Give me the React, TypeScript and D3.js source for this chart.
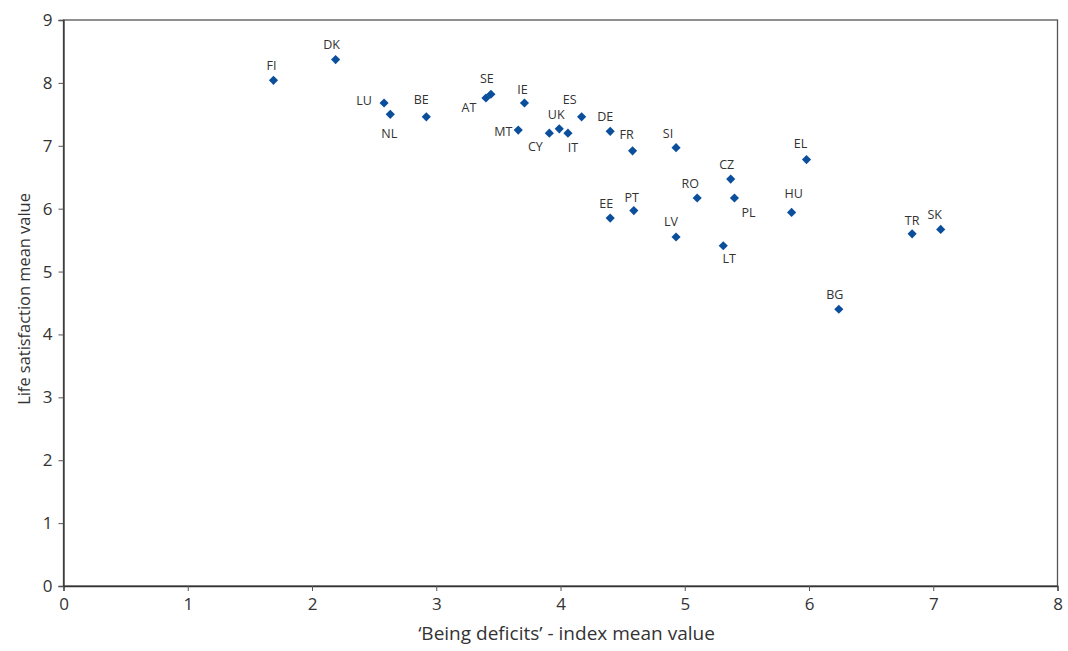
import React, { useEffect, useRef } from "react";
import * as d3 from "d3";

const countries = ["FI","DK","LU","NL","BE","AT","SE","IE","ES","MT","CY","UK","IT","DE","FR","SI","EE","PT","RO","LV","CZ","PL","LT","EL","HU","BG","TR","SK"];
const deficits = [1.69,2.19,2.58,2.63,2.92,3.40,3.44,3.71,4.17,3.66,3.91,3.99,4.06,4.40,4.58,4.93,4.40,4.59,5.10,4.93,5.37,5.40,5.31,5.98,5.86,6.24,6.83,7.06];
const satisfaction = [8.04,8.37,7.68,7.50,7.46,7.76,7.82,7.68,7.46,7.25,7.20,7.27,7.20,7.23,6.92,6.97,5.85,5.97,6.17,5.55,6.47,6.17,5.41,6.78,5.94,4.40,5.60,5.67];
// label placement relative to marker (pixels)
const labelDx = [-2,-4,-20,-1,-5,-17,-4,-2,-12,-15,-14,-3,5,-5,-6,-8,-4,-2,-7,-5,-4,14,6,-6,2,-4,0,-6];
const labelDy = [-15,-15,-3,19,-17,10,-16,-14,-17,1,13,-14,14,-15,-16,-14,-15,-13,-14,-15,-15,15,13,-16,-19,-15,-13,-15];

const xTicks = [0,1,2,3,4,5,6,7,8];
const yTicks = [0,1,2,3,4,5,6,7,8,9];

const W = 1068, H = 651;
const left = 63.5, right = 1057.5, top = 20, bottom = 586;

function fitText(sel: d3.Selection<SVGTextElement, unknown, null, undefined>, base: number, target: number) {
  const node = sel.node();
  if (!node) return;
  const len = node.getComputedTextLength();
  if (len > 0) sel.attr("font-size", (base * target) / len);
}

export default function App() {
  const ref = useRef<SVGSVGElement>(null);
  useEffect(() => {
    const svg = d3.select(ref.current);
    svg.selectAll("*").remove();
    const x = d3.scaleLinear().domain([0, 8]).range([left, right]);
    const y = d3.scaleLinear().domain([0, 9]).range([bottom, top]);
    const font = "'Open Sans', sans-serif";
    const textColor = "#333";

    // frame
    svg.append("rect").attr("x", left).attr("y", top).attr("width", right - left).attr("height", bottom - top)
      .attr("fill", "none").attr("stroke", "#555").attr("stroke-width", 1.3);

    const xa = svg.append("g").attr("transform", `translate(0,${bottom})`)
      .call(d3.axisBottom(x).tickValues(xTicks).tickFormat(d3.format("d")).tickSize(5).tickPadding(7));
    const ya = svg.append("g").attr("transform", `translate(${left},0)`)
      .call(d3.axisLeft(y).tickValues(yTicks).tickFormat(d3.format("d")).tickSize(5).tickPadding(6));
    [xa, ya].forEach(a => {
      a.select(".domain").attr("stroke", "#333").attr("stroke-width", 1.3);
      a.selectAll(".tick line").attr("stroke", "#555");
      a.selectAll(".tick text").attr("font-family", font).attr("font-size", 17).attr("fill", textColor);
    });

    const sym = d3.symbol().type(d3.symbolSquare).size(42);
    const pts = countries.map((c, i) => ({ c, x: deficits[i], y: satisfaction[i], dx: labelDx[i], dy: labelDy[i] }));
    svg.append("g").selectAll("path").data(pts).join("path")
      .attr("d", sym as any)
      .attr("transform", d => `translate(${x(d.x)},${y(d.y)}) rotate(45)`)
      .attr("fill", "#0b4f9c");
    svg.append("g").selectAll("text").data(pts).join("text")
      .attr("x", d => x(d.x) + d.dx).attr("y", d => y(d.y) + d.dy)
      .attr("text-anchor", "middle").attr("dominant-baseline", "central")
      .attr("font-family", font).attr("font-size", 12.5).attr("fill", textColor)
      .text(d => d.c);

    const xt = svg.append("text").attr("x", 566.5).attr("y", 640)
      .attr("text-anchor", "middle").attr("font-family", font).attr("font-size", 16).attr("fill", textColor)
      .text("\u2018Being deficits\u2019 - index mean value");
    fitText(xt as any, 16, 297);
    const yt = svg.append("text").attr("transform", `translate(30,299) rotate(-90)`)
      .attr("text-anchor", "middle").attr("font-family", font).attr("font-size", 16).attr("fill", textColor)
      .text("Life satisfaction mean value");
    fitText(yt as any, 16, 212);
  }, []);
  return <svg ref={ref} width={W} height={H} style={{ position: "absolute", left: 0, top: 0, background: "#fff" }} />;
}
